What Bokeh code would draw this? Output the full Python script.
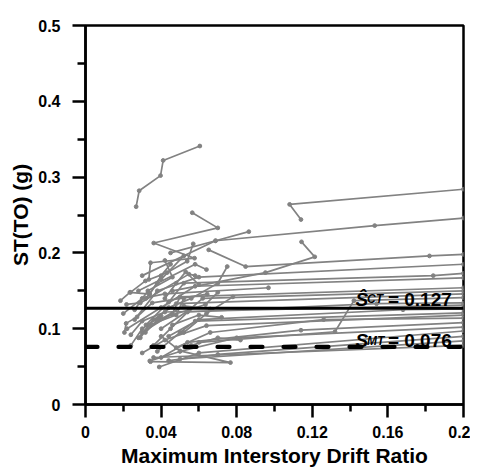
from bokeh.plotting import figure
from bokeh.models import Range1d, FixedTicker, ColumnDataSource, Label
from bokeh.embed import file_html
from bokeh.resources import INLINE

# ---------------- data ----------------
x_ticks = [0, 0.04, 0.08, 0.12, 0.16, 0.2]
x_tick_labels = ["0", "0.04", "0.08", "0.12", "0.16", "0.2"]
x_minor = [0.02, 0.06, 0.10, 0.14, 0.18]
y_ticks = [0, 0.1, 0.2, 0.3, 0.4, 0.5]
y_tick_labels = ["0", "0.1", "0.2", "0.3", "0.4", "0.5"]
y_minor = [0.05, 0.15, 0.25, 0.35, 0.45]

s_ct = 0.127
s_mt = 0.076

# IDA curves: drift ratio (x) and ST(T0) (y)
d01 = [0.114, 0.108, 0.2];                    s01 = [0.244, 0.264, 0.284]
d02 = [0.030, 0.0688, 0.153, 0.2];            s02 = [0.170, 0.216, 0.236, 0.246]
d03 = [0.0652, 0.0847, 0.182, 0.2];           s03 = [0.204, 0.182, 0.196, 0.198]
d04 = [0.026, 0.038, 0.060, 0.2];             s04 = [0.112, 0.150, 0.168, 0.185]
d05 = [0.032, 0.044, 0.052, 0.184, 0.2];      s05 = [0.105, 0.135, 0.160, 0.170, 0.173]
d06 = [0.022, 0.040, 0.058, 0.2];             s06 = [0.100, 0.128, 0.156, 0.167]
d07 = [0.030, 0.046, 0.050, 0.2];             s07 = [0.095, 0.120, 0.142, 0.154]
d08 = [0.040, 0.055, 0.062, 0.2];             s08 = [0.100, 0.125, 0.140, 0.150]
d09 = [0.028, 0.036, 0.048, 0.2];             s09 = [0.088, 0.112, 0.133, 0.146]
d10 = [0.060, 0.132, 0.142, 0.2];             s10 = [0.082, 0.096, 0.137, 0.141]
d11 = [0.036, 0.045, 0.054, 0.154, 0.2];      s11 = [0.078, 0.100, 0.122, 0.133, 0.134]
d12 = [0.024, 0.030, 0.042, 0.2];             s12 = [0.092, 0.110, 0.122, 0.131]
d13 = [0.044, 0.060, 0.168, 0.2];             s13 = [0.090, 0.112, 0.125, 0.126]
d14 = [0.038, 0.050, 0.058, 0.2];             s14 = [0.070, 0.095, 0.110, 0.121]
d15 = [0.030, 0.042, 0.064, 0.2];             s15 = [0.068, 0.085, 0.104, 0.118]
d16 = [0.048, 0.066, 0.126, 0.2];             s16 = [0.075, 0.095, 0.112, 0.114]
d17 = [0.040, 0.054, 0.114, 0.2];             s17 = [0.062, 0.082, 0.098, 0.108]
d18 = [0.034, 0.050, 0.080, 0.2];             s18 = [0.0575, 0.070, 0.088, 0.102]
d19 = [0.039, 0.060, 0.2];                    s19 = [0.0495, 0.068, 0.097]
d20 = [0.044, 0.070, 0.2];                    s20 = [0.058, 0.066, 0.090]
d21 = [0.050, 0.2];                           s21 = [0.060, 0.084]
d22 = [0.036, 0.2];                           s22 = [0.062, 0.078]
d23 = [0.0268, 0.0284, 0.0397, 0.0411, 0.0605]; s23 = [0.261, 0.282, 0.302, 0.322, 0.341]
d24 = [0.0335, 0.0344, 0.0577, 0.0361, 0.0700, 0.0565]; s24 = [0.165, 0.187, 0.193, 0.213, 0.233, 0.253]
d25 = [0.0238, 0.0317, 0.0432, 0.0538, 0.0570]; s25 = [0.148, 0.163, 0.174, 0.189, 0.212]
d26 = [0.045, 0.0688, 0.0864];                s26 = [0.200, 0.216, 0.228]
d27 = [0.046, 0.0952, 0.1213, 0.1143];        s27 = [0.150, 0.174, 0.1948, 0.2146]
d28 = [0.020, 0.030, 0.042, 0.0968];          s28 = [0.120, 0.140, 0.146, 0.154]
d29 = [0.0185, 0.0235, 0.034, 0.040, 0.045];  s29 = [0.137, 0.148, 0.1456, 0.170, 0.185]
d30 = [0.0217, 0.029, 0.0547, 0.058];         s30 = [0.132, 0.134, 0.172, 0.170]
d31 = [0.0206, 0.0215, 0.0273, 0.0353, 0.0644]; s31 = [0.095, 0.107, 0.1156, 0.134, 0.1456]
d32 = [0.0317, 0.0388, 0.0635, 0.070];        s32 = [0.095, 0.1125, 0.132, 0.148]
d33 = [0.029, 0.034, 0.048, 0.052];           s33 = [0.088, 0.105, 0.118, 0.140]
d34 = [0.0344, 0.0767, 0.050, 0.040];         s34 = [0.0565, 0.0553, 0.0707, 0.090]
d35 = [0.044, 0.056, 0.070, 0.075];           s35 = [0.128, 0.140, 0.160, 0.182]
d36 = [0.052, 0.064, 0.078];                  s36 = [0.095, 0.120, 0.142]
d37 = [0.026, 0.033, 0.046, 0.042];           s37 = [0.125, 0.150, 0.168, 0.190]
d38 = [0.042, 0.048, 0.053, 0.060];           s38 = [0.140, 0.160, 0.175, 0.158]
d39 = [0.038, 0.052, 0.066];                  s39 = [0.110, 0.130, 0.126]
d40 = [0.046, 0.060, 0.072];                  s40 = [0.105, 0.118, 0.115]
d41 = [0.024, 0.030, 0.040];                  s41 = [0.078, 0.100, 0.117]
d42 = [0.056, 0.070, 0.082];                  s42 = [0.078, 0.088, 0.085]
d43 = [0.032, 0.038, 0.058, 0.064];           s43 = [0.140, 0.160, 0.185, 0.178]
d44 = [0.028, 0.040, 0.052];                  s44 = [0.150, 0.165, 0.196]

drifts = [d01, d02, d03, d04, d05, d06, d07, d08, d09, d10, d11, d12, d13, d14,
          d15, d16, d17, d18, d19, d20, d21, d22, d23, d24, d25, d26, d27, d28,
          d29, d30, d31, d32, d33, d34, d35, d36, d37, d38, d39, d40, d41, d42,
          d43, d44]
sas = [s01, s02, s03, s04, s05, s06, s07, s08, s09, s10, s11, s12, s13, s14,
       s15, s16, s17, s18, s19, s20, s21, s22, s23, s24, s25, s26, s27, s28,
       s29, s30, s31, s32, s33, s34, s35, s36, s37, s38, s39, s40, s41, s42,
       s43, s44]

# ---------------- figure ----------------
FONT = "Liberation Sans"
GRAY = "#828282"

p = figure(width=470, height=469, output_backend="svg", toolbar_location=None,
           x_range=Range1d(0, 0.2), y_range=Range1d(0, 0.5),
           min_border_left=85, min_border_right=7, min_border_top=25,
           min_border_bottom=65)
p.xgrid.visible = False
p.ygrid.visible = False
p.outline_line_color = "black"
p.outline_line_width = 2.5
p.background_fill_color = "white"
p.border_fill_color = "white"

line_src = ColumnDataSource(dict(xs=drifts, ys=sas))
p.multi_line("xs", "ys", source=line_src, line_color=GRAY, line_width=1.7)

pt_x = [v for c in drifts for v in c]
pt_y = [v for c in sas for v in c]
p.scatter(pt_x, pt_y, size=3.8, color=GRAY, line_color=GRAY)

p.line([0, 0.2], [s_ct, s_ct], line_color="black", line_width=2.8)
p.line([0, 0.2], [s_mt, s_mt], line_color="black", line_width=4.2,
       line_dash="12 21", line_cap="round")

# labels
def add_label(x, y, text, size, style):
    p.add_layout(Label(x=x, y=y, text=text, text_font=FONT,
                       text_font_size=size, text_font_style=style,
                       text_color="black", text_baseline="alphabetic",
                       text_align="left"))

add_label(0.1429, 0.139, "Ŝ", "19px", "bold italic")
add_label(0.1490, 0.139, "CT", "12px", "bold italic")
add_label(0.1600, 0.139, "= " + str(s_ct), "19px", "bold")
add_label(0.1429, 0.0839, "S", "19px", "bold italic")
add_label(0.1490, 0.0839, "MT", "12px", "bold italic")
add_label(0.1600, 0.0839, "= " + str(s_mt), "19px", "bold")

# axes
for ax in (p.xaxis[0], p.yaxis[0]):
    ax.axis_line_width = 2.5
    ax.axis_line_color = "black"
    ax.major_tick_line_width = 2.5
    ax.minor_tick_line_width = 2.5
    ax.major_tick_line_color = "black"
    ax.minor_tick_line_color = "black"
    ax.major_tick_in = 0
    ax.minor_tick_in = 0
    ax.major_label_text_font = FONT
    ax.major_label_text_font_style = "bold"
    ax.major_label_text_font_size = "16px"
    ax.major_label_text_color = "black"
    ax.axis_label_text_font = FONT
    ax.axis_label_text_font_style = "bold"
    ax.axis_label_text_font_size = "21px"
    ax.axis_label_text_color = "black"

p.xaxis.ticker = FixedTicker(ticks=x_ticks, minor_ticks=x_minor)
p.yaxis.ticker = FixedTicker(ticks=y_ticks, minor_ticks=y_minor)
p.xaxis.major_label_overrides = {t: l for t, l in zip(x_ticks, x_tick_labels)}
p.yaxis.major_label_overrides = {t: l for t, l in zip(y_ticks, y_tick_labels)}

p.xaxis.major_tick_out = 13
p.xaxis.minor_tick_out = 7
p.yaxis.major_tick_out = 13
p.yaxis.minor_tick_out = 8
p.xaxis.major_label_standoff = 8
p.yaxis.major_label_standoff = 12
p.xaxis.axis_label = "Maximum Interstory Drift Ratio"
p.yaxis.axis_label = "ST(TO) (g)"
p.xaxis.axis_label_standoff = 3
p.yaxis.axis_label_standoff = 3

open("out.html", "w").write(file_html(p, INLINE))
